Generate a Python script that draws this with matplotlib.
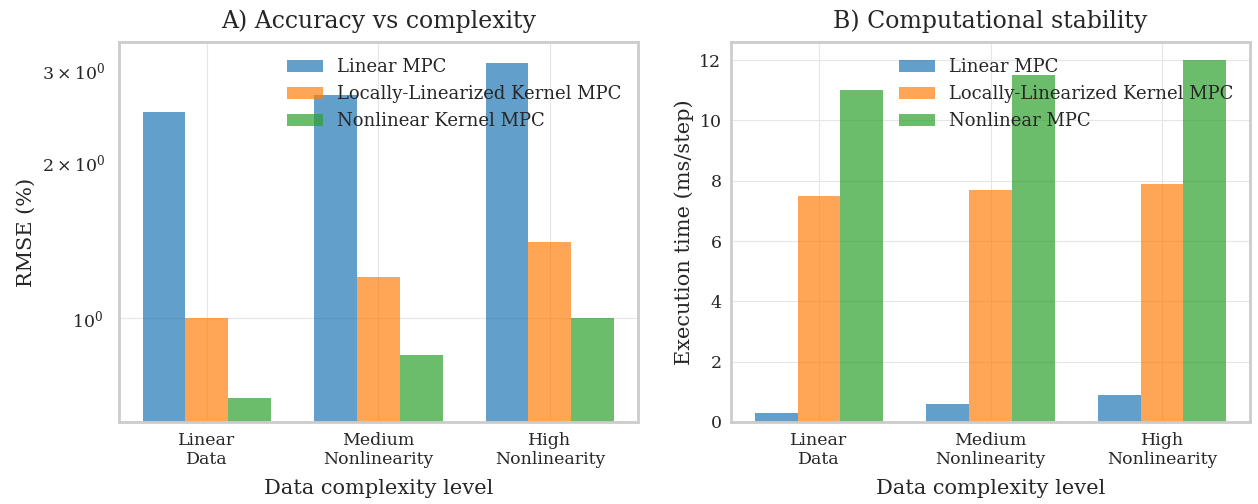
import numpy as np
import matplotlib.pyplot as plt
import seaborn as sns

sns.set_style('whitegrid')
plt.rcParams['font.family'] = ['DejaVu Serif']
plt.rcParams['mathtext.fontset'] = 'dejavuserif'

levels = ['Linear\nData', 'Medium\nNonlinearity', 'High\nNonlinearity']

# A) RMSE (%)
rmse_linear = [2.5, 2.7, 3.1]
rmse_llk = [1.0, 1.2, 1.4]
rmse_nlk = [0.7, 0.85, 1.0]

# B) execution time (ms/step)
time_linear = [0.3, 0.6, 0.9]
time_llk = [7.5, 7.7, 7.9]
time_nl = [11.0, 11.5, 12.0]

colors = ['#1f77b4', '#ff7f0e', '#2ca02c']
x = np.arange(len(levels))
w = 0.25

fig, (ax1, ax2) = plt.subplots(1, 2, figsize=(12.58, 5.04), dpi=100)
plt.subplots_adjust(left=0.0946, right=0.9936, top=0.9167, bottom=0.1627, wspace=0.18)

ax1.bar(x - w, rmse_linear, w, color=colors[0], alpha=0.7, linewidth=0, label='Linear MPC')
ax1.bar(x, rmse_llk, w, color=colors[1], alpha=0.7, linewidth=0, label='Locally-Linearized Kernel MPC')
ax1.bar(x + w, rmse_nlk, w, color=colors[2], alpha=0.7, linewidth=0, label='Nonlinear Kernel MPC')
ax1.set_yscale('log')
ax1.set_ylim(min(rmse_nlk) * 0.9, max(rmse_linear) * 1.1)
ax1.set_xticks(x)
ax1.set_xticklabels(levels)
ax1.set_xlabel('Data complexity level', fontsize=15, labelpad=8)
ax1.set_ylabel('RMSE (%)', fontsize=15)
ax1.set_title('A) Accuracy vs complexity', fontsize=17, pad=10)
ax1.legend(loc='upper right', fontsize=13, frameon=False)

ax2.bar(x - w, time_linear, w, color=colors[0], alpha=0.7, linewidth=0, label='Linear MPC')
ax2.bar(x, time_llk, w, color=colors[1], alpha=0.7, linewidth=0, label='Locally-Linearized Kernel MPC')
ax2.bar(x + w, time_nl, w, color=colors[2], alpha=0.7, linewidth=0, label='Nonlinear MPC')
ax2.set_xticks(x)
ax2.set_xticklabels(levels)
ax2.set_xlabel('Data complexity level', fontsize=15, labelpad=8)
ax2.set_ylabel('Execution time (ms/step)', fontsize=15)
ax2.set_title('B) Computational stability', fontsize=17, pad=10)
ax2.legend(loc='upper right', fontsize=13, frameon=False)

for ax in (ax1, ax2):
    ax.tick_params(which='both', labelsize=12.5)
    ax.grid(True, which='major', color='#e6e6e6')
    ax.grid(False, which='minor')
    for s in ax.spines.values():
        s.set_color('#cccccc')
        s.set_linewidth(2)
ax1.tick_params(axis='y', which='both', pad=8)

plt.savefig('out.png')
